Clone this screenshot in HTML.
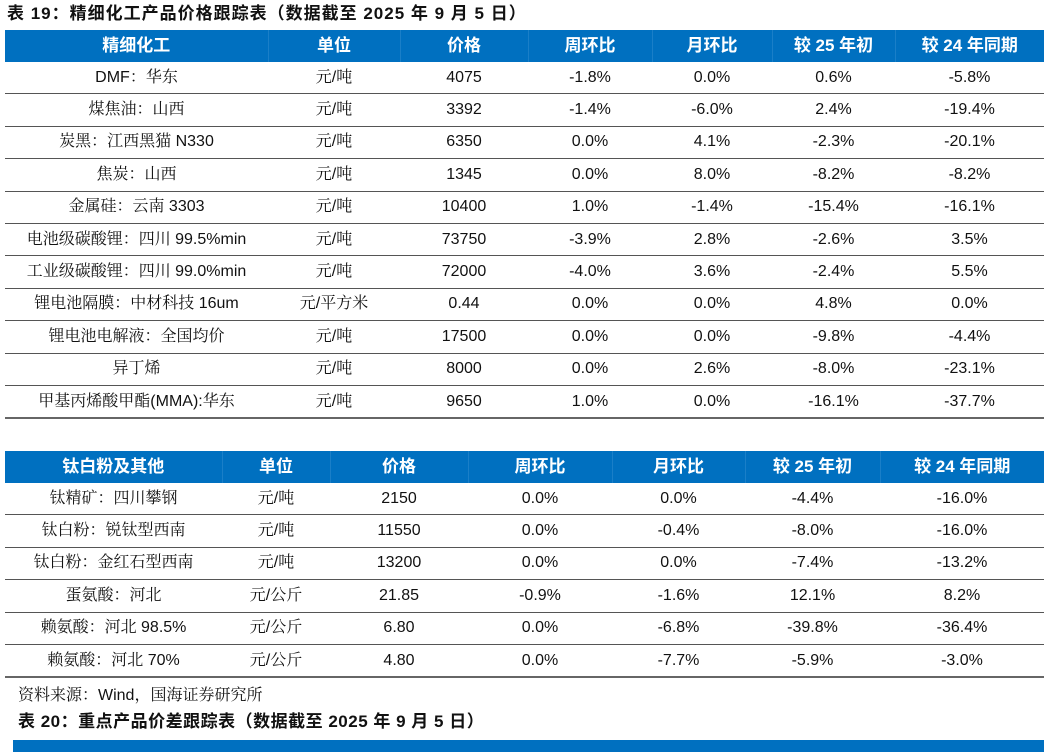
<!DOCTYPE html>
<html><head><meta charset="utf-8">
<style>
body{margin:0;width:1053px;height:752px;background:#fff;position:relative;overflow:hidden;font-family:"Liberation Sans","Noto Sans CJK SC",sans-serif;color:#111}
.title{position:absolute;left:7px;font-weight:bold;font-size:17px;line-height:20px;letter-spacing:1px}
table{position:absolute;left:5px;border-collapse:collapse;table-layout:fixed;font-size:16px;font-family:"Liberation Sans","Noto Serif CJK SC",serif}
th{background:#0070c0;color:#fff;font-weight:bold;font-size:17px;height:32px;padding:0;text-align:center;border-left:1px solid #1a7fc8;line-height:18px;vertical-align:middle;font-family:"Liberation Sans","Noto Sans CJK SC",sans-serif}
th:first-child{border-left:none}
td{height:31.4px;padding:0;text-align:center;border-bottom:1px solid #555;line-height:18px;vertical-align:middle;white-space:nowrap}
tr:last-child td{border-bottom:2px solid #666}
.src{position:absolute;left:18px;top:682px;font-size:16px;font-family:"Liberation Sans","Noto Serif CJK SC",serif}
.bar{position:absolute;left:13px;top:740px;width:1031px;height:12px;background:#0070c0}
</style></head><body>
<div class="title" style="top:4px">表 19：精细化工产品价格跟踪表（数据截至 2025 年 9 月 5 日）</div>
<table style="top:30px;width:1039px">
<colgroup><col style="width:263px"><col style="width:132px"><col style="width:128px"><col style="width:124px"><col style="width:120px"><col style="width:123px"><col style="width:149px"></colgroup>
<tr><th>精细化工</th><th>单位</th><th>价格</th><th>周环比</th><th>月环比</th><th>较 25 年初</th><th>较 24 年同期</th></tr>
<tr><td>DMF：华东</td><td>元/吨</td><td>4075</td><td>-1.8%</td><td>0.0%</td><td>0.6%</td><td>-5.8%</td></tr>
<tr><td>煤焦油：山西</td><td>元/吨</td><td>3392</td><td>-1.4%</td><td>-6.0%</td><td>2.4%</td><td>-19.4%</td></tr>
<tr><td>炭黑：江西黑猫 N330</td><td>元/吨</td><td>6350</td><td>0.0%</td><td>4.1%</td><td>-2.3%</td><td>-20.1%</td></tr>
<tr><td>焦炭：山西</td><td>元/吨</td><td>1345</td><td>0.0%</td><td>8.0%</td><td>-8.2%</td><td>-8.2%</td></tr>
<tr><td>金属硅：云南 3303</td><td>元/吨</td><td>10400</td><td>1.0%</td><td>-1.4%</td><td>-15.4%</td><td>-16.1%</td></tr>
<tr><td>电池级碳酸锂：四川 99.5%min</td><td>元/吨</td><td>73750</td><td>-3.9%</td><td>2.8%</td><td>-2.6%</td><td>3.5%</td></tr>
<tr><td>工业级碳酸锂：四川 99.0%min</td><td>元/吨</td><td>72000</td><td>-4.0%</td><td>3.6%</td><td>-2.4%</td><td>5.5%</td></tr>
<tr><td>锂电池隔膜：中材科技 16um</td><td>元/平方米</td><td>0.44</td><td>0.0%</td><td>0.0%</td><td>4.8%</td><td>0.0%</td></tr>
<tr><td>锂电池电解液：全国均价</td><td>元/吨</td><td>17500</td><td>0.0%</td><td>0.0%</td><td>-9.8%</td><td>-4.4%</td></tr>
<tr><td>异丁烯</td><td>元/吨</td><td>8000</td><td>0.0%</td><td>2.6%</td><td>-8.0%</td><td>-23.1%</td></tr>
<tr><td>甲基丙烯酸甲酯(MMA):华东</td><td>元/吨</td><td>9650</td><td>1.0%</td><td>0.0%</td><td>-16.1%</td><td>-37.7%</td></tr>
</table>
<table style="top:451px;width:1039px">
<colgroup><col style="width:217px"><col style="width:108px"><col style="width:138px"><col style="width:144px"><col style="width:133px"><col style="width:135px"><col style="width:164px"></colgroup>
<tr><th>钛白粉及其他</th><th>单位</th><th>价格</th><th>周环比</th><th>月环比</th><th>较 25 年初</th><th>较 24 年同期</th></tr>
<tr><td>钛精矿：四川攀钢</td><td>元/吨</td><td>2150</td><td>0.0%</td><td>0.0%</td><td>-4.4%</td><td>-16.0%</td></tr>
<tr><td>钛白粉：锐钛型西南</td><td>元/吨</td><td>11550</td><td>0.0%</td><td>-0.4%</td><td>-8.0%</td><td>-16.0%</td></tr>
<tr><td>钛白粉：金红石型西南</td><td>元/吨</td><td>13200</td><td>0.0%</td><td>0.0%</td><td>-7.4%</td><td>-13.2%</td></tr>
<tr><td>蛋氨酸：河北</td><td>元/公斤</td><td>21.85</td><td>-0.9%</td><td>-1.6%</td><td>12.1%</td><td>8.2%</td></tr>
<tr><td>赖氨酸：河北 98.5%</td><td>元/公斤</td><td>6.80</td><td>0.0%</td><td>-6.8%</td><td>-39.8%</td><td>-36.4%</td></tr>
<tr><td>赖氨酸：河北 70%</td><td>元/公斤</td><td>4.80</td><td>0.0%</td><td>-7.7%</td><td>-5.9%</td><td>-3.0%</td></tr>
</table>
<div class="src">资料来源：Wind，国海证券研究所</div>
<div class="title" style="top:712px;left:18px;letter-spacing:0.5px">表 20：重点产品价差跟踪表（数据截至 2025 年 9 月 5 日）</div>
<div class="bar"></div>
</body></html>
